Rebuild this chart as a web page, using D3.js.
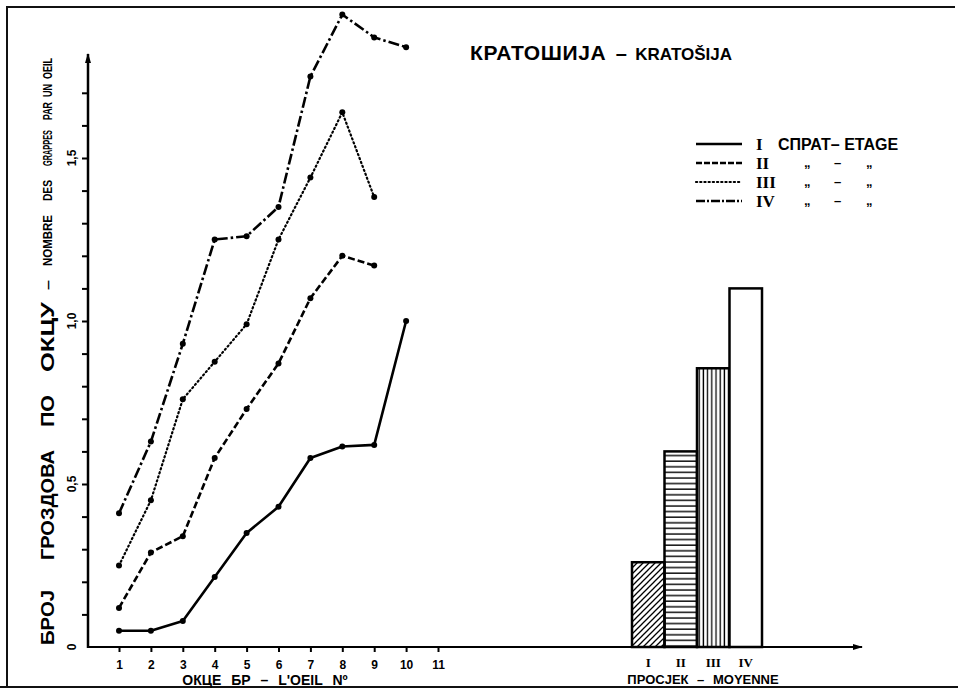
<!DOCTYPE html>
<html>
<head>
<meta charset="utf-8">
<title>Кратошија - Kratošija</title>
<style>
  body { margin: 0; background: #fff; }
  svg { display: block; font-family: "Liberation Sans", "DejaVu Sans", sans-serif; }
  .axis path, .axis line { stroke: #000; }
  .roman { font-family: "Liberation Serif", "DejaVu Serif", serif; font-weight: bold; }
</style>
</head>
<body>
<div id="chart"></div>
<script src="https://cdn.jsdelivr.net/npm/d3@7"></script>
<script>

    // eye number on the cane
    var eyes = [1, 2, 3, 4, 5, 6, 7, 8, 9, 10];
    // bunches per eye, one list per floor (etage)
    var etage1 = [0.05, 0.05, 0.08, 0.215, 0.35, 0.43, 0.58, 0.615, 0.62, 1.0];
    var etage2 = [0.12, 0.29, 0.34, 0.58, 0.73, 0.87, 1.07, 1.20, 1.17];
    var etage3 = [0.25, 0.45, 0.76, 0.875, 0.99, 1.25, 1.44, 1.64, 1.38];
    var etage4 = [0.41, 0.63, 0.93, 1.25, 1.26, 1.35, 1.75, 1.94, 1.87, 1.84];
    // average bars
    var barNames = ["I", "II", "III", "IV"];
    var barValues = [0.26, 0.60, 0.855, 1.10];

    var xTicks = [1, 2, 3, 4, 5, 6, 7, 8, 9, 10, 11];
    var yLabels = {"0": "0", "0.5": "0,5", "1": "1,0", "1.5": "1,5"};

    var width = 961, height = 689;

    var svg = d3.select("#chart").append("svg")
        .attr("width", width)
        .attr("height", height);

    // patterns for the bars
    var defs = svg.append("defs");
    defs.append("pattern").attr("id", "diag")
        .attr("patternUnits", "userSpaceOnUse").attr("width", 6).attr("height", 6)
        .append("path").attr("d", "M-1,7 L7,-1 M-4,4 L4,-4 M2,10 L10,2")
        .attr("stroke", "#000").attr("stroke-width", 1.3);
    defs.append("pattern").attr("id", "horiz")
        .attr("patternUnits", "userSpaceOnUse").attr("width", 6).attr("height", 5.6)
        .append("line").attr("x1", 0).attr("x2", 6).attr("y1", 2).attr("y2", 2)
        .attr("stroke", "#000").attr("stroke-width", 1.4);
    defs.append("pattern").attr("id", "vert")
        .attr("patternUnits", "userSpaceOnUse").attr("width", 4.2).attr("height", 6)
        .append("line").attr("x1", 2).attr("x2", 2).attr("y1", 0).attr("y2", 6)
        .attr("stroke", "#000").attr("stroke-width", 1.3);
    defs.append("marker").attr("id", "arrow")
        .attr("viewBox", "0 0 10 6").attr("refX", 9).attr("refY", 3)
        .attr("markerWidth", 10).attr("markerHeight", 6)
        .attr("markerUnits", "userSpaceOnUse").attr("orient", "auto")
        .append("path").attr("d", "M0,0 L10,3 L0,6 Z").attr("fill", "#000");

    // page frame
    svg.append("path")
        .attr("d", "M7,687 L7,7 L955,7 M0,687 L958,687")
        .attr("fill", "none").attr("stroke", "#111").attr("stroke-width", 2);

    var x = d3.scaleLinear().domain([1, 11]).range([119, 438]);
    var y = d3.scaleLinear().domain([0, 1]).range([647, 321]);
    var xb = d3.scaleBand().domain(barNames).range([632, 762]);

    // baseline shared by both parts, with arrow
    svg.append("line")
        .attr("x1", 88).attr("x2", 862).attr("y1", y(0)).attr("y2", y(0))
        .attr("stroke", "#000").attr("stroke-width", 2)
        .attr("marker-end", "url(#arrow)");

    // y axis
    var yAxis = d3.axisLeft(y)
        .tickValues(d3.range(1, 18).map(function(i) { return i / 10; }))
        .tickSize(6)
        .tickFormat("");
    var gy = svg.append("g").attr("class", "axis").attr("transform", "translate(88,0)").call(yAxis);
    gy.select(".domain").remove();
    gy.selectAll(".tick line").attr("stroke", "#000").attr("stroke-width", 2);
    svg.append("line")
        .attr("x1", 88).attr("x2", 88).attr("y1", y(0) + 1).attr("y2", 54)
        .attr("stroke", "#000").attr("stroke-width", 2.5)
        .attr("marker-end", "url(#arrow)");

    svg.selectAll(".ylab")
        .data([0, 0.5, 1, 1.5])
        .enter().append("text")
        .attr("class", "ylab")
        .attr("transform", function(d) { return "translate(76," + y(d) + ") rotate(-90)"; })
        .attr("text-anchor", "middle")
        .attr("font-size", 12).attr("font-weight", "bold")
        .text(function(d) { return yLabels[String(d)]; });

    // y title, word by word: [word, start y, end y, font size]
    var yTitle = [
        ["БРОЈ", 645, 590, 18], ["ГРОЗДОВА", 560, 450, 18], ["ПО", 427, 395, 18], ["ОКЦУ", 372, 302, 18],
        ["–", 290, 280, 12], ["NOMBRE", 266, 215, 12], ["DES", 201, 180, 12],
        ["GRAPPES", 166, 130, 12], ["PAR", 120, 102, 12], ["UN", 97, 84, 12], ["OEIL", 79, 58, 12]
    ];
    svg.selectAll(".ytitle")
        .data(yTitle)
        .enter().append("text")
        .attr("class", "ytitle")
        .attr("transform", function(d) { return "translate(" + (d[3] > 14 ? 54 : 52) + "," + d[1] + ") rotate(-90)"; })
        .attr("font-size", function(d) { return d[3]; })
        .attr("font-weight", "bold")
        .attr("textLength", function(d) { return d[1] - d[2]; })
        .attr("lengthAdjust", "spacingAndGlyphs")
        .text(function(d) { return d[0]; });

    // x axis
    var xAxis = d3.axisBottom(x).tickValues(xTicks).tickSize(4).tickPadding(8)
        .tickFormat(d3.format("d"));
    var gx = svg.append("g").attr("class", "axis")
        .attr("transform", "translate(0," + (y(0) + 1) + ")").call(xAxis);
    gx.select(".domain").remove();
    gx.selectAll(".tick line").attr("stroke-width", 2);
    gx.selectAll(".tick text").attr("font-size", 12).attr("font-weight", "bold")
        .attr("font-family", "Liberation Sans, sans-serif").attr("fill", "#000");

    svg.append("text")
        .attr("x", 265).attr("y", 685)
        .attr("text-anchor", "middle")
        .attr("font-size", 14).attr("font-weight", "bold")
        .attr("word-spacing", 6)
        .text("ОКЦЕ БР – L'OEIL Nº");

    // series lines
    var series = [
        {name: "I", values: etage1, dash: null, w: 2.6},
        {name: "II", values: etage2, dash: "7,3", w: 2.6},
        {name: "III", values: etage3, dash: "1.2,3", w: 2.2},
        {name: "IV", values: etage4, dash: "11,3,2.5,3", w: 2.6}
    ];

    var line = d3.line()
        .x(function(d, i) { return x(eyes[i]); })
        .y(function(d) { return y(d); });

    var sg = svg.selectAll(".series")
        .data(series)
        .enter().append("g")
        .attr("class", "series");

    sg.append("path")
        .attr("d", function(d) { return line(d.values); })
        .attr("fill", "none")
        .attr("stroke", "#000")
        .attr("stroke-width", function(d) { return d.w; })
        .attr("stroke-dasharray", function(d) { return d.dash; })
        .attr("stroke-linecap", function(d) { return d.name == "III" ? "round" : "butt"; })
        .attr("stroke-linejoin", "round");

    sg.selectAll("circle")
        .data(function(d) { return d.values; })
        .enter().append("circle")
        .attr("cx", function(d, i) { return x(eyes[i]); })
        .attr("cy", function(d) { return y(d); })
        .attr("r", 3)
        .attr("fill", "#000");

    // bars
    var fills = ["url(#diag)", "url(#horiz)", "url(#vert)", "#fff"];
    svg.selectAll(".bar")
        .data(barValues)
        .enter().append("rect")
        .attr("class", "bar")
        .attr("x", function(d, i) { return xb(barNames[i]); })
        .attr("y", function(d) { return y(d); })
        .attr("width", xb.bandwidth())
        .attr("height", function(d) { return y(0) - y(d); })
        .attr("fill", function(d, i) { return fills[i]; })
        .attr("stroke", "#000")
        .attr("stroke-width", 2.5);

    svg.selectAll(".barlab")
        .data(barNames)
        .enter().append("text")
        .attr("class", "barlab roman")
        .attr("x", function(d) { return xb(d) + xb.bandwidth() / 2; })
        .attr("y", 667)
        .attr("text-anchor", "middle")
        .attr("font-size", 13)
        .text(function(d) { return d; });

    svg.append("text")
        .attr("x", 703).attr("y", 684)
        .attr("text-anchor", "middle")
        .attr("font-size", 13).attr("font-weight", "bold")
        .attr("word-spacing", 5)
        .text("ПРОСЈЕК – MOYENNE");

    // title
    var title = svg.append("text").attr("x", 470).attr("y", 60).attr("font-weight", "bold")
        .attr("word-spacing", 3);
    title.append("tspan").attr("font-size", 21).attr("letter-spacing", 0.6).text("КРАТОШИЈА ");
    title.append("tspan").attr("font-size", 20).text("– ");
    title.append("tspan").attr("font-size", 17).text("KRATOŠIJA");

    // legend
    var legend = svg.selectAll(".legend")
        .data(series)
        .enter().append("g")
        .attr("class", "legend")
        .attr("transform", function(d, i) { return "translate(696," + (144 + i * 19) + ")"; });

    legend.append("line")
        .attr("x1", 0).attr("x2", 46)
        .attr("stroke", "#000")
        .attr("stroke-width", function(d) { return d.w; })
        .attr("stroke-dasharray", function(d) { return d.name == "IV" ? "9,2,2,2" : d.name == "II" ? "6,2" : d.dash; })
        .attr("stroke-linecap", function(d) { return d.name == "III" ? "round" : "butt"; });

    legend.append("text")
        .attr("class", "roman")
        .attr("x", 60).attr("y", 6)
        .attr("font-size", 17)
        .text(function(d) { return d.name; });

    legend.filter(function(d, i) { return i == 0; }).append("text")
        .attr("x", 82).attr("y", 6)
        .attr("font-size", 16).attr("font-weight", "bold")
        .text("СПРАТ– ETAGE");

    var ditto = legend.filter(function(d, i) { return i > 0; });
    ditto.append("text").attr("x", 108).attr("y", 4).attr("font-size", 13).attr("font-weight", "bold").text("\u201E");
    ditto.append("text").attr("x", 138).attr("y", 4).attr("font-size", 13).attr("font-weight", "bold").text("–");
    ditto.append("text").attr("x", 170).attr("y", 4).attr("font-size", 13).attr("font-weight", "bold").text("\u201E");

</script>
</body>
</html>
